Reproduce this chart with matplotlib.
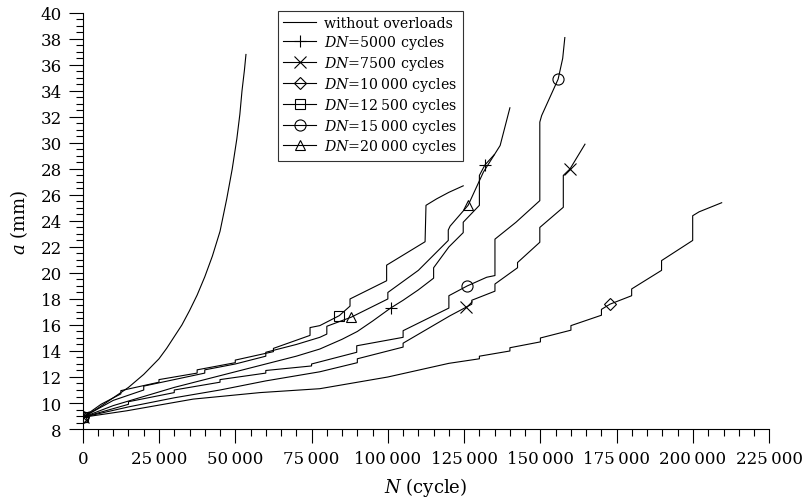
import matplotlib
matplotlib.use("Agg")
import matplotlib.pyplot as plt
from matplotlib.lines import Line2D
from matplotlib.ticker import MultipleLocator

plt.rcParams['font.family'] = ['DejaVu Serif']
plt.rcParams['mathtext.fontset'] = 'dejavuserif'

# crack length a (mm) vs number of cycles N (thousands of cycles)
N_base = [0, 2.5, 5, 7.5, 10, 12.5, 15, 17.5, 20, 22.5, 25, 27.5, 30, 32.5, 35, 37.5, 40,
          42.5, 45, 47.2, 49, 50.5, 51.5, 52.2, 53, 53.5]
a_base = [8.9, 9.25, 9.6, 10.0, 10.4, 10.8, 11.2, 11.7, 12.2, 12.8, 13.4, 14.2, 15.1, 16.0,
          17.1, 18.3, 19.7, 21.3, 23.2, 25.7, 28.0, 30.3, 32.2, 34.0, 35.6, 36.8]

# DN = 5000 cycles
N_5000 = [0, 10, 20, 30, 40, 50, 60, 70, 77.7, 85, 90, 95, 100.9, 105, 110, 115, 115,
          120, 124.7, 124.7, 130, 130, 131.8, 134.9]
a_5000 = [8.9, 9.8, 10.5, 11.2, 11.8, 12.4, 13.0, 13.6, 14.15, 14.9, 15.5, 16.3, 17.3, 17.9,
          18.7, 19.6, 20.4, 22.0, 23.1, 23.9, 25.2, 27.5, 28.3, 29.1]
mk_5000 = [0, 12, 22]

# DN = 7500 cycles
N_7500 = [0, 15, 30, 45, 60, 77.7, 90, 90, 105, 105, 120.3, 125.6, 127.5, 127.5, 135.1, 135.1,
          142.5, 142.5, 149.8, 149.8, 157.5, 157.5, 159.7, 164.6]
a_7500 = [8.9, 9.7, 10.4, 11.0, 11.7, 12.4, 13.1, 13.4, 14.3, 14.6, 16.7, 17.36, 17.6, 17.9,
          18.6, 19.15, 20.4, 20.8, 22.36, 23.5, 25.05, 27.5, 28.0, 29.9]
mk_7500 = [0, 11, 22]

# DN = 10000 cycles
N_10000 = [0, 14.4, 36.2, 58.1, 77.7, 100, 120, 130, 130, 140, 140, 150, 150, 160, 160,
           170, 170, 172.8, 179.9, 179.9, 189.7, 189.7, 199.9, 199.9, 202, 209.4]
a_10000 = [8.9, 9.4, 10.3, 10.8, 11.1, 12.0, 13.05, 13.4, 13.6, 14.0, 14.25, 14.7, 15.0,
           15.6, 15.95, 16.75, 17.2, 17.6, 18.25, 18.77, 20.2, 20.95, 22.5, 24.4, 24.7, 25.4]
mk_10000 = [0, 17]

# DN = 12500 cycles
N_12500 = [0, 6, 12.5, 12.5, 25, 25, 37.5, 37.5, 50, 50, 62.5, 62.5, 74.5, 74.5, 77.7, 84.1,
           87.6, 87.6, 99.6, 99.6, 112.2, 112.5, 116, 120, 124.7]
a_12500 = [8.9, 9.9, 10.7, 10.95, 11.6, 11.8, 12.3, 12.55, 13.1, 13.3, 13.95, 14.2, 15.2, 15.8,
           15.95, 16.72, 17.45, 18.0, 19.4, 20.6, 22.4, 25.2, 25.7, 26.2, 26.7]
mk_12500 = [0, 15]

# DN = 15000 cycles
N_15000 = [0, 15, 15, 30, 30, 45, 45, 60, 60, 75, 75, 89.8, 89.8, 105, 105, 120, 120, 126,
           132.4, 135.1, 135.1, 142, 149.8, 149.8, 150.4, 155.8, 157.3, 158]
a_15000 = [8.9, 9.9, 10.1, 10.8, 11.0, 11.6, 11.8, 12.3, 12.5, 12.85, 13.0, 13.9, 14.4, 15.05,
           15.56, 17.3, 18.25, 19.0, 19.67, 19.8, 22.6, 23.9, 25.56, 31.6, 32.1, 34.9, 36.5, 38.1]
mk_15000 = [0, 17, 25]

# DN = 20000 cycles
N_20000 = [0, 10, 20, 20, 30, 40, 40, 50, 60, 60, 70, 77.7, 80, 80, 88, 100, 100, 110, 119.8,
           119.8, 120.4, 126.3, 131.3, 136.8, 140]
a_20000 = [8.9, 10.2, 11.0, 11.3, 11.8, 12.3, 12.55, 13.0, 13.6, 13.9, 14.5, 15.05, 15.3, 15.9,
           16.6, 18.0, 18.5, 20.2, 22.5, 23.3, 23.6, 25.2, 27.75, 29.8, 32.7]
mk_20000 = [0, 14, 21]

x_ticks = [0, 25, 50, 75, 100, 125, 150, 175, 200, 225]
x_tick_labels = ['0', '25\u2009000', '50\u2009000', '75\u2009000', '100\u2009000',
                 '125\u2009000', '150\u2009000', '175\u2009000', '200\u2009000', '225\u2009000']

series = [
    (N_5000, a_5000, mk_5000, '+', '$DN$=5000 cycles'),
    (N_7500, a_7500, mk_7500, 'x', '$DN$=7500 cycles'),
    (N_10000, a_10000, mk_10000, 'D', '$DN$=10\u2009000 cycles'),
    (N_12500, a_12500, mk_12500, 's', '$DN$=12\u2009500 cycles'),
    (N_15000, a_15000, mk_15000, 'o', '$DN$=15\u2009000 cycles'),
    (N_20000, a_20000, mk_20000, '^', '$DN$=20\u2009000 cycles'),
]
msize = {'+': 9, 'x': 9, 'D': 6, 's': 7.5, 'o': 8, '^': 7.5}

fig = plt.figure(figsize=(8.03, 5.02), dpi=100)
ax = fig.add_axes([0.103, 0.1434, 0.855, 0.829])

lw = 0.8
ax.plot(N_base, a_base, color='black', linewidth=lw)
handles = [Line2D([], [], color='black', linewidth=lw, label='without overloads')]
for N, a, mk, m, lab in series:
    ax.plot(N, a, color='black', linewidth=lw, marker=m, markevery=mk,
            markersize=msize[m], markerfacecolor='none', markeredgecolor='black',
            markeredgewidth=0.8)
    handles.append(Line2D([], [], color='black', linewidth=lw, marker=m,
                          markersize=msize[m], markerfacecolor='none',
                          markeredgecolor='black', markeredgewidth=0.8, label=lab))

ax.set_xlim(0, 225)
ax.set_ylim(8, 40)
ax.set_xticks(x_ticks)
ax.set_xticklabels(x_tick_labels)
ax.xaxis.set_minor_locator(MultipleLocator(5))
ax.yaxis.set_major_locator(MultipleLocator(2))
ax.yaxis.set_minor_locator(MultipleLocator(0.5))
ax.tick_params(which='major', direction='out', length=10, width=0.8, labelsize=12, pad=5)
ax.tick_params(which='minor', direction='out', length=5, width=0.8)
for s in ['top', 'right']:
    ax.spines[s].set_visible(False)
for s in ['left', 'bottom']:
    ax.spines[s].set_linewidth(0.8)

ax.set_xlabel('$N$ (cycle)', fontsize=13, labelpad=6)
ax.set_ylabel('$a$ (mm)', fontsize=13, labelpad=8)

leg = ax.legend(handles=handles, loc='upper left', bbox_to_anchor=(0.284, 1.005),
                fontsize=10.2, frameon=True, fancybox=False, numpoints=1,
                handlelength=2.3, handletextpad=0.6, labelspacing=0.2,
                borderpad=0.4, borderaxespad=0)
leg.get_frame().set_edgecolor('black')
leg.get_frame().set_linewidth(0.8)

fig.savefig('out.png', dpi=100)
